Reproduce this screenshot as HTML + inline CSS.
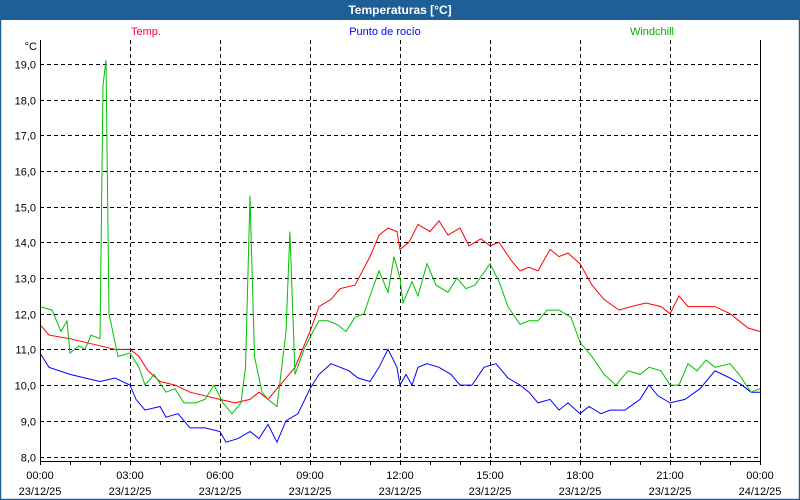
<!DOCTYPE html>
<html><head><meta charset="utf-8"><style>
body{margin:0;background:#fff}
svg{display:block;font-family:"Liberation Sans","DejaVu Sans",sans-serif}
</style></head><body>
<svg id="s" width="800" height="500" viewBox="0 0 800 500" xmlns="http://www.w3.org/2000/svg">
<rect x="0" y="0" width="800" height="500" fill="#fff"/>
<rect x="0" y="0" width="800" height="20" fill="#1f5f97"/>
<rect x="0.5" y="0.5" width="799" height="499" fill="none" stroke="#1f5f97" stroke-width="1.5"/>
<text x="400" y="14" fill="#fff" font-size="12" font-weight="bold" text-anchor="middle">Temperaturas [°C]</text>
<text x="146" y="35" fill="#ff0040" font-size="11" text-anchor="middle">Temp.</text>
<text x="385" y="35" fill="#0000ff" font-size="11" text-anchor="middle">Punto de rocío</text>
<text x="652" y="35" fill="#00b000" font-size="11" text-anchor="middle">Windchill</text>
<text x="37" y="50" font-size="11" text-anchor="end">°C</text>
<g id="grid" stroke="#000" stroke-width="1" stroke-dasharray="4,3"></g>
<g id="lbl" font-size="11" fill="#000"></g>
<g id="ser" fill="none" stroke-width="1"></g>
<line x1="40.5" y1="40" x2="40.5" y2="462" stroke="#000"/>
<line x1="760.5" y1="40" x2="760.5" y2="462" stroke="#000"/>
<line x1="40" y1="461.5" x2="761" y2="461.5" stroke="#000"/>
</svg>
<script>
var NS="http://www.w3.org/2000/svg";
function el(p,t,a,txt){var e=document.createElementNS(NS,t);for(var k in a)e.setAttribute(k,a[k]);if(txt)e.textContent=txt;document.getElementById(p).appendChild(e);return e;}
function X(h){return 40+30*h;}function Y(v){return 456.5-35.7*(v-8);}
for(var v=8;v<=19;v++){var y=Math.round(Y(v))+0.5;el("grid","line",{x1:40,y1:y,x2:760,y2:y});
el("lbl","text",{x:36,y:y+4,"text-anchor":"end"},v+",0");}
for(var h=3;h<24;h+=3){var x=X(h)+0.5;el("grid","line",{x1:x,y1:40,x2:x,y2:461});}
for(var h=0;h<=24;h++){var x=X(h)+0.5;el("ser","line",{x1:x,y1:461,x2:x,y2:465,stroke:"#000"});}
var times=["00:00","03:00","06:00","09:00","12:00","15:00","18:00","21:00","00:00"];
for(var i=0;i<9;i++){var x=X(i*3);el("lbl","text",{x:x,y:479,"text-anchor":"middle"},times[i]);
el("lbl","text",{x:x,y:495,"text-anchor":"middle"},i==8?"24/12/25":"23/12/25");}
function poly(d,c){var p=[];for(var i=0;i<d.length;i+=2)p.push(X(d[i]).toFixed(1)+","+Y(d[i+1]).toFixed(1));el("ser","polyline",{points:p.join(" "),stroke:c});}
poly([0,11.7,.3,11.4,1,11.3,1.5,11.2,2,11.1,2.5,11.0,3,11.0,3.3,10.8,3.6,10.4,4,10.1,4.5,10.0,5,9.8,5.5,9.7,6,9.6,6.5,9.5,7,9.6,7.3,9.8,7.6,9.6,8,10.0,8.5,10.5,9,11.5,9.3,12.2,9.7,12.4,10,12.7,10.5,12.8,11,13.6,11.3,14.2,11.6,14.4,11.9,14.3,12,13.8,12.3,14.0,12.6,14.5,13,14.3,13.3,14.6,13.6,14.2,14,14.4,14.3,13.9,14.7,14.1,15,13.9,15.3,14.0,15.7,13.5,16,13.2,16.3,13.3,16.6,13.2,17,13.8,17.3,13.6,17.6,13.7,18,13.4,18.4,12.8,18.8,12.4,19.3,12.1,19.7,12.2,20.2,12.3,20.7,12.2,21,12.0,21.3,12.5,21.6,12.2,22,12.2,22.5,12.2,23,12.0,23.3,11.8,23.6,11.6,24,11.5],"#ff0000");
poly([0,10.9,.3,10.5,1,10.3,1.5,10.2,2,10.1,2.5,10.2,3,10.0,3.2,9.6,3.5,9.3,4,9.4,4.2,9.1,4.6,9.2,5,8.8,5.5,8.8,6,8.7,6.2,8.4,6.6,8.5,7,8.7,7.3,8.5,7.6,8.9,7.9,8.4,8.2,9.0,8.6,9.2,9,9.9,9.3,10.3,9.7,10.6,10.3,10.4,10.6,10.2,11,10.1,11.3,10.5,11.6,11.0,11.9,10.5,12,10.0,12.2,10.3,12.4,10.0,12.6,10.5,12.9,10.6,13.3,10.5,13.7,10.3,14,10.0,14.4,10.0,14.8,10.5,15.2,10.6,15.6,10.2,16,10.0,16.3,9.8,16.6,9.5,17,9.6,17.3,9.3,17.6,9.5,18,9.2,18.3,9.4,18.7,9.2,19,9.3,19.5,9.3,20,9.6,20.3,10.0,20.6,9.7,21,9.5,21.5,9.6,22,9.9,22.5,10.4,23,10.2,23.4,10.0,23.7,9.8,24,9.8],"#0000ff");
poly([0,12.2,.4,12.1,.7,11.5,.9,11.8,1,10.9,1.3,11.1,1.5,11.0,1.7,11.4,2,11.3,2.1,18.4,2.2,19.1,2.3,12.0,2.6,10.8,3,10.9,3.3,10.5,3.5,10.0,3.8,10.3,4.2,9.8,4.5,9.9,4.8,9.5,5.2,9.5,5.5,9.6,5.8,10.0,6.1,9.5,6.4,9.2,6.7,9.5,6.85,10.5,7.0,15.3,7.15,10.8,7.4,9.8,7.6,9.6,7.9,9.4,8.2,11.5,8.33,14.3,8.5,10.3,8.8,11.0,9.1,11.5,9.3,11.8,9.6,11.8,9.9,11.7,10.2,11.5,10.5,11.9,10.8,12.0,11,12.5,11.3,13.2,11.6,12.6,11.8,13.6,12,13.0,12.1,12.3,12.4,12.9,12.6,12.5,12.9,13.4,13.2,12.8,13.6,12.6,13.9,13.0,14.2,12.7,14.5,12.8,15.0,13.4,15.3,12.9,15.6,12.2,16,11.7,16.3,11.8,16.6,11.8,16.9,12.1,17.3,12.1,17.7,11.9,18,11.2,18.4,10.8,18.8,10.3,19.2,10.0,19.6,10.4,20,10.3,20.3,10.5,20.7,10.4,21,10.0,21.3,10.0,21.6,10.6,21.9,10.4,22.2,10.7,22.5,10.5,23,10.6,23.3,10.3,23.7,9.8,24,9.9],"#00c000");
</script>
</body></html>
